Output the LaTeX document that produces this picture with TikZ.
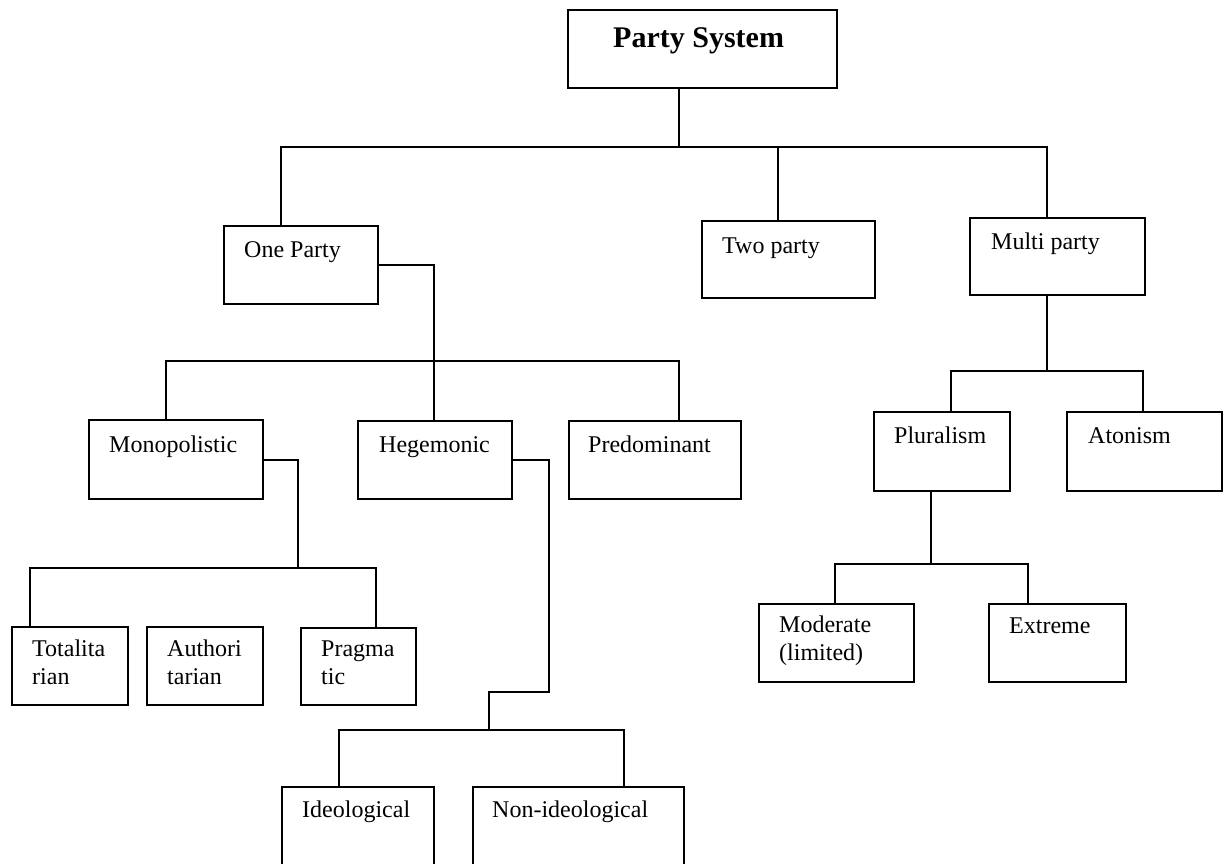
\documentclass[tikz,border=0pt]{standalone}
\usepackage{fontspec}
\setmainfont{Liberation Serif}
\begin{document}
\begin{tikzpicture}[x=1pt,y=-1pt,
  box/.style={draw, line width=2pt, anchor=north west, inner sep=0pt},
  lbl/.style={anchor=base west, inner sep=0pt, align=left, font=\fontsize{24}{27.5}\selectfont},
  conn/.style={line width=2pt, line join=miter}]
\useasboundingbox (0,0) rectangle (1228,863);
\fill[white] (0,0) rectangle (1228,863);
% boxes
\node[box, minimum width=269pt, minimum height=78pt] (ps) at (567,9) {};
\node[box, minimum width=154pt, minimum height=78pt] (op) at (223,225) {};
\node[box, minimum width=173pt, minimum height=77pt] (tp) at (701,220) {};
\node[box, minimum width=175pt, minimum height=77pt] (mp) at (969,217) {};
\node[box, minimum width=174pt, minimum height=79pt] (mono) at (88,419) {};
\node[box, minimum width=154pt, minimum height=78pt] (heg) at (357,420) {};
\node[box, minimum width=172pt, minimum height=78pt] (pred) at (568,420) {};
\node[box, minimum width=136pt, minimum height=79pt] (plur) at (873,411) {};
\node[box, minimum width=155pt, minimum height=79pt] (aton) at (1066,411) {};
\node[box, minimum width=116pt, minimum height=78pt] (tot) at (11,626) {};
\node[box, minimum width=116pt, minimum height=78pt] (auth) at (146,626) {};
\node[box, minimum width=115pt, minimum height=77pt] (prag) at (300,627) {};
\node[box, minimum width=155pt, minimum height=78pt] (mod) at (758,603) {};
\node[box, minimum width=137pt, minimum height=78pt] (ext) at (988,603) {};
\node[box, minimum width=152pt, minimum height=90pt] (ideo) at (281,786) {};
\node[box, minimum width=211pt, minimum height=90pt] (nonideo) at (472,786) {};
% texts (multi-line nodes are anchored at the baseline of their last line)
\node[lbl, font=\fontsize{30}{33}\selectfont\bfseries] (ps-t) at (613,47) {Party System};
\node[lbl] (op-t) at (244,257) {One Party};
\node[lbl] (tp-t) at (722,253) {Two party};
\node[lbl] (mp-t) at (991,249) {Multi party};
\node[lbl] (mono-t) at (109,452) {Monopolistic};
\node[lbl] (heg-t) at (379,452) {Hegemonic};
\node[lbl] (pred-t) at (588,452) {Predominant};
\node[lbl] (plur-t) at (894,443) {Pluralism};
\node[lbl] (aton-t) at (1088,443) {Atonism};
\node[lbl] (tot-t) at (32,684) {Totalita\\rian};
\node[lbl] (auth-t) at (167,684) {Authori\\tarian};
\node[lbl] (prag-t) at (321,684) {Pragma\\tic};
\node[lbl] (mod-t) at (779,660) {Moderate\\(limited)};
\node[lbl] (ext-t) at (1009,633) {Extreme};
\node[lbl] (ideo-t) at (302,817) {Ideological};
\node[lbl] (nonideo-t) at (492,817) {Non-ideological};
% junctions
\coordinate (a0) at (679,147);
\coordinate (a1) at (281,147);
\coordinate (a2) at (1047,147);
\coordinate (a3) at (778,147);
\coordinate (b1) at (434,361);
\coordinate (b2) at (166,361);
\coordinate (b3) at (679,361);
\coordinate (c1) at (298,568);
\coordinate (c2) at (30,568);
\coordinate (c3) at (376,568);
\coordinate (d1) at (549,692);
\coordinate (d2) at (489,692);
\coordinate (d3) at (489,730);
\coordinate (d4) at (339,730);
\coordinate (d5) at (624,730);
\coordinate (e1) at (1047,371);
\coordinate (e2) at (951,371);
\coordinate (e3) at (1143,371);
\coordinate (f1) at (931,564);
\coordinate (f2) at (835,564);
\coordinate (f3) at (1028,564);
% connectors
\draw[conn] (ps.south -| a0) -- (a0);
\draw[conn] (op.north -| a1) -- (a1) -- (a2) -- (mp.north -| a2);
\draw[conn] (a3) -- (tp.north -| a3);
\draw[conn] (op.east) -- (op.east -| b1) -- (heg.north -| b1);
\draw[conn] (mono.north -| b2) -- (b2) -- (b3) -- (pred.north -| b3);
\draw[conn] (mono.east) -- (mono.east -| c1) -- (c1);
\draw[conn] (tot.north -| c2) -- (c2) -- (c3) -- (prag.north -| c3);
\draw[conn] (heg.east) -- (heg.east -| d1) -- (d1) -- (d2) -- (d3);
\draw[conn] (ideo.north -| d4) -- (d4) -- (d5) -- (nonideo.north -| d5);
\draw[conn] (mp.south -| e1) -- (e1);
\draw[conn] (plur.north -| e2) -- (e2) -- (e3) -- (aton.north -| e3);
\draw[conn] (plur.south -| f1) -- (f1);
\draw[conn] (mod.north -| f2) -- (f2) -- (f3) -- (ext.north -| f3);
\end{tikzpicture}
\end{document}
